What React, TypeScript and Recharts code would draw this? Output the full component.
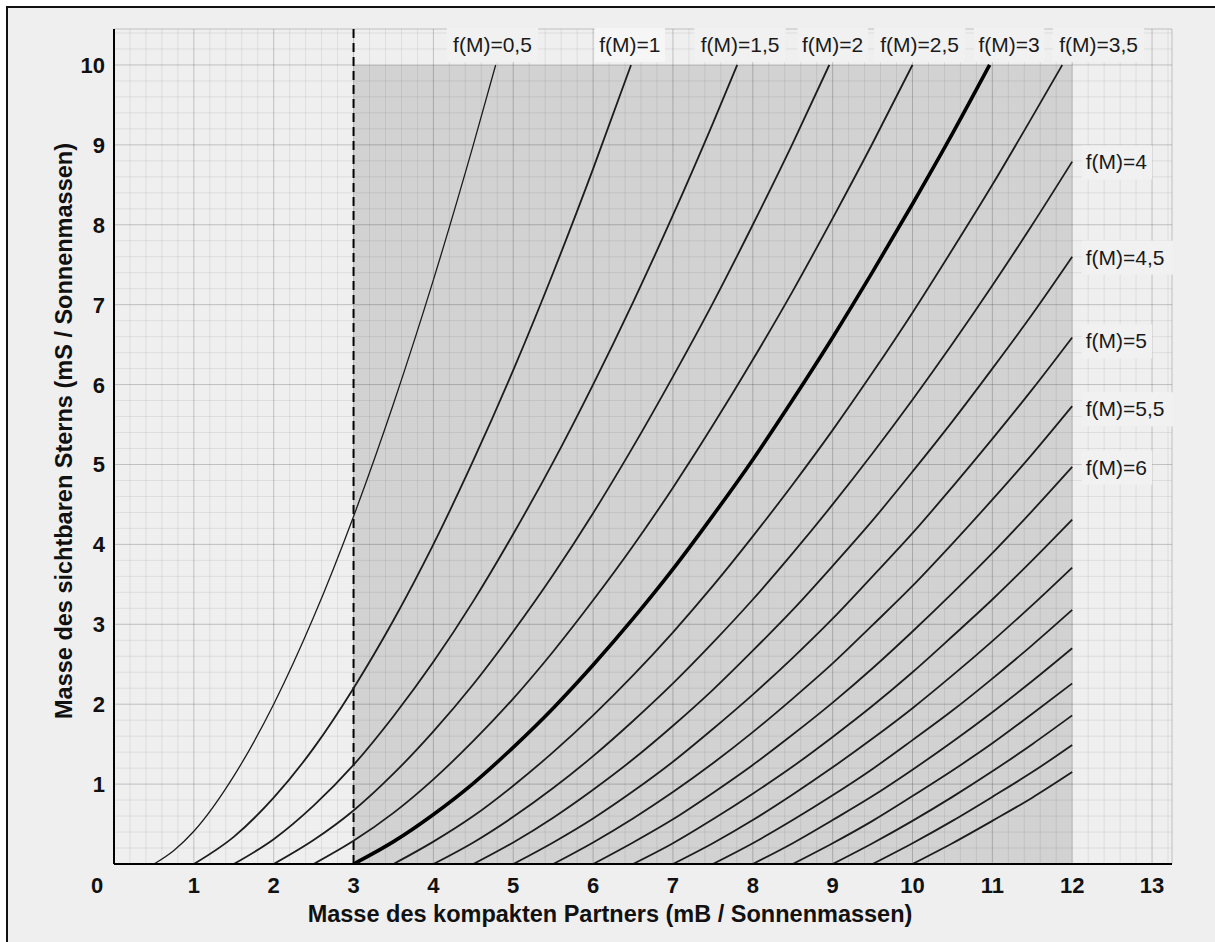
import React from "react";
import {
  CartesianGrid,
  Line,
  LineChart,
  ReferenceArea,
  ReferenceDot,
  ReferenceLine,
  XAxis,
  YAxis,
} from "recharts";

type Pt = [number, number];

// mS over mB for each mass function f(M)
const fm05: Pt[] = [[0.5, 0], [0.75, 0.17], [1, 0.41], [1.5, 1.1], [2, 2], [2.5, 3.09], [3, 4.35], [3.5, 5.76], [4, 7.31], [4.5, 9], [4.78, 10]];
const fm10: Pt[] = [[1, 0], [1.5, 0.34], [2, 0.83], [2.5, 1.45], [3, 2.2], [3.5, 3.05], [4, 4], [4.5, 5.05], [5, 6.18], [5.5, 7.4], [6, 8.7], [6.475, 10]];
const fm15: Pt[] = [[1.5, 0], [2, 0.31], [2.5, 0.73], [3, 1.24], [3.5, 1.85], [4, 2.53], [4.5, 3.29], [5, 4.13], [5.5, 5.03], [6, 6], [6.5, 7.03], [7, 8.12], [7.5, 9.27], [7.805, 10]];
const fm20: Pt[] = [[2, 0], [2.5, 0.3], [3, 0.67], [3.5, 1.13], [4, 1.66], [4.5, 2.25], [5, 2.91], [5.5, 3.62], [6, 4.39], [6.5, 5.22], [7, 6.1], [7.5, 7.02], [8, 8], [8.5, 9.02], [8.958, 10]];
const fm25: Pt[] = [[2.5, 0], [3, 0.29], [3.5, 0.64], [4, 1.06], [4.5, 1.54], [5, 2.07], [5.5, 2.66], [6, 3.3], [6.5, 3.98], [7, 4.71], [7.5, 5.49], [8, 6.31], [8.5, 7.17], [9, 8.08], [9.5, 9.02], [10, 10]];
const fm30: Pt[] = [[3, 0], [3.5, 0.28], [4, 0.62], [4.5, 1.01], [5, 1.46], [5.5, 1.95], [6, 2.49], [6.5, 3.07], [7, 3.69], [7.5, 4.36], [8, 5.06], [8.5, 5.81], [9, 6.59], [9.5, 7.41], [10, 8.26], [10.5, 9.14], [10.966, 10]];
const fm35: Pt[] = [[3.5, 0], [4, 0.28], [4.5, 0.6], [5, 0.98], [5.5, 1.4], [6, 1.86], [6.5, 2.36], [7, 2.9], [7.5, 3.48], [8, 4.1], [8.5, 4.75], [9, 5.43], [9.5, 6.15], [10, 6.9], [10.5, 7.69], [11, 8.5], [11.5, 9.35], [11.876, 10]];
const fm40: Pt[] = [[4, 0], [4.5, 0.27], [5, 0.59], [5.5, 0.95], [6, 1.35], [6.5, 1.79], [7, 2.26], [7.5, 2.77], [8, 3.31], [8.5, 3.89], [9, 4.5], [9.5, 5.14], [10, 5.81], [10.5, 6.51], [11, 7.24], [11.5, 8], [12, 8.79]];
const fm45: Pt[] = [[4.5, 0], [5, 0.27], [5.5, 0.58], [6, 0.93], [6.5, 1.31], [7, 1.73], [7.5, 2.18], [8, 2.67], [8.5, 3.18], [9, 3.73], [9.5, 4.3], [10, 4.91], [10.5, 5.54], [11, 6.2], [11.5, 6.88], [12, 7.6]];
const fm50: Pt[] = [[5, 0], [5.5, 0.27], [6, 0.57], [6.5, 0.91], [7, 1.28], [7.5, 1.69], [8, 2.12], [8.5, 2.58], [9, 3.07], [9.5, 3.6], [10, 4.14], [10.5, 4.72], [11, 5.32], [11.5, 5.94], [12, 6.59]];
const fm55: Pt[] = [[5.5, 0], [6, 0.27], [6.5, 0.57], [7, 0.9], [7.5, 1.26], [8, 1.65], [8.5, 2.07], [9, 2.51], [9.5, 2.99], [10, 3.48], [10.5, 4.01], [11, 4.56], [11.5, 5.13], [12, 5.73]];
const fm60: Pt[] = [[6, 0], [6.5, 0.27], [7, 0.56], [7.5, 0.89], [8, 1.24], [8.5, 1.62], [9, 2.02], [9.5, 2.45], [10, 2.91], [10.5, 3.39], [11, 3.89], [11.5, 4.42], [12, 4.97]];
const fm65: Pt[] = [[6.5, 0], [7, 0.26], [7.5, 0.56], [8, 0.88], [8.5, 1.22], [9, 1.59], [9.5, 1.98], [10, 2.4], [10.5, 2.85], [11, 3.31], [11.5, 3.8], [12, 4.31]];
const fm70: Pt[] = [[7, 0], [7.5, 0.26], [8, 0.55], [8.5, 0.87], [9, 1.21], [9.5, 1.57], [10, 1.95], [10.5, 2.36], [11, 2.79], [11.5, 3.24], [12, 3.71]];
const fm75: Pt[] = [[7.5, 0], [8, 0.26], [8.5, 0.55], [9, 0.86], [9.5, 1.19], [10, 1.55], [10.5, 1.92], [11, 2.32], [11.5, 2.74], [12, 3.18]];
const fm80: Pt[] = [[8, 0], [8.5, 0.26], [9, 0.55], [9.5, 0.85], [10, 1.18], [10.5, 1.53], [11, 1.9], [11.5, 2.29], [12, 2.7]];
const fm85: Pt[] = [[8.5, 0], [9, 0.26], [9.5, 0.54], [10, 0.85], [10.5, 1.17], [11, 1.51], [11.5, 1.88], [12, 2.26]];
const fm90: Pt[] = [[9, 0], [9.5, 0.26], [10, 0.54], [10.5, 0.84], [11, 1.16], [11.5, 1.5], [12, 1.86]];
const fm95: Pt[] = [[9.5, 0], [10, 0.26], [10.5, 0.54], [11, 0.84], [11.5, 1.15], [12, 1.49]];
const fm100: Pt[] = [[10, 0], [10.5, 0.26], [11, 0.54], [11.5, 0.83], [12, 1.15]];

const fValues = [0.5, 1, 1.5, 2, 2.5, 3, 3.5, 4, 4.5, 5, 5.5, 6, 6.5, 7, 7.5, 8, 8.5, 9, 9.5, 10];
const fCurves = [fm05, fm10, fm15, fm20, fm25, fm30, fm35, fm40, fm45, fm50, fm55, fm60, fm65, fm70, fm75, fm80, fm85, fm90, fm95, fm100];

// labels: [text, mB position] along the top, [text, mS position] at the right
const topLabels: [string, number][] = [
  ["f(M)=0,5", 4.74], ["f(M)=1", 6.46], ["f(M)=1,5", 7.84], ["f(M)=2", 9.0],
  ["f(M)=2,5", 10.09], ["f(M)=3", 11.21], ["f(M)=3,5", 12.33],
];
const rightLabels: [string, number][] = [
  ["f(M)=4", 8.78], ["f(M)=4,5", 7.59], ["f(M)=5", 6.54], ["f(M)=5,5", 5.69], ["f(M)=6", 4.96],
];

const xTicks = [0, 1, 2, 3, 4, 5, 6, 7, 8, 9, 10, 11, 12, 13];
const yTicks = [1, 2, 3, 4, 5, 6, 7, 8, 9, 10];
const minorStep = 0.2;
const xMax = 13.25;
const yMax = 10.45;

// minor grid every 0.2, skipping the integer lines of the major grid
const minorX: number[] = [];
for (let i = 1; i * minorStep <= xMax; i++) if (i % 5 !== 0) minorX.push(+(i * minorStep).toFixed(2));
const minorY: number[] = [];
for (let i = 1; i * minorStep <= yMax; i++) if (i % 5 !== 0) minorY.push(+(i * minorStep).toFixed(2));

const FONT = "'Liberation Sans', Arial, sans-serif";

const XTick = ({ x, y, payload }: any) => (
  <text x={payload.value === 0 ? x - 17 : x} y={y + 29} textAnchor="middle" fontFamily={FONT} fontWeight="bold" fontSize={22} fill="#111">
    {payload.value}
  </text>
);

const YTick = ({ x, y, payload }: any) => (
  <text x={x - 9} y={y + 8} textAnchor="end" fontFamily={FONT} fontWeight="bold" fontSize={22} fill="#111">
    {payload.value}
  </text>
);

const labelShape = (text: string, anchor: "middle" | "start") => (props: any) => {
  const { cx, cy } = props;
  const w = text.length * 10.4 + 8;
  const left = anchor === "middle" ? cx - w / 2 : cx - 4;
  return (
    <g>
      <rect x={left} y={cy - 17} width={w} height={34} fill={text === "f(M)=1" ? "#f6f6f6" : "#f1f1f1"} />
      <text x={cx} y={cy + 7} textAnchor={anchor} fontFamily={FONT} fontSize={21} fill="#1a1a1a">
        {text}
      </text>
    </g>
  );
};

export default function App() {
  return (
    <div style={{ position: "absolute", left: 0, top: 0, width: 1215, height: 942, background: "#fff", overflow: "hidden" }}>
      <div style={{ position: "absolute", left: 6, top: 6, width: 1209, height: 936, background: "#efefef", borderTop: "2px solid #111", borderLeft: "2px solid #111", boxSizing: "border-box" }} />
      <div style={{ position: "absolute", left: 0, top: 0 }}>
        <LineChart width={1215} height={942} margin={{ top: 29, right: 43, bottom: 48, left: 64 }}>
          <CartesianGrid stroke="#000" strokeOpacity={0.2} strokeWidth={1} />
          {minorX.map((v) => (
            <ReferenceLine key={`mx${v}`} x={v} stroke="#000" strokeOpacity={0.075} strokeWidth={1} />
          ))}
          {minorY.map((v) => (
            <ReferenceLine key={`my${v}`} y={v} stroke="#000" strokeOpacity={0.075} strokeWidth={1} />
          ))}
          <XAxis
            type="number"
            dataKey="x"
            domain={[0, xMax]}
            ticks={xTicks}
            allowDataOverflow
            height={30}
            tickSize={0}
            tickMargin={0}
            tickLine={false}
            axisLine={{ stroke: "#000", strokeWidth: 2 }}
            tick={<XTick />}
          />
          <YAxis
            type="number"
            dataKey="y"
            domain={[0, yMax]}
            ticks={yTicks}
            allowDataOverflow
            width={50}
            tickSize={0}
            tickMargin={0}
            tickLine={false}
            axisLine={{ stroke: "#000", strokeWidth: 2 }}
            tick={<YTick />}
          />
          <ReferenceArea x1={3} x2={12} y1={0} y2={10} fill="#000" fillOpacity={0.12} stroke="none" />
          <ReferenceLine x={3} stroke="#000" strokeWidth={2} strokeDasharray="9 5" />
          {fCurves.map((pts, i) => {
            const f = fValues[i];
            return (
              <Line
                key={f}
                data={pts.map(([x, y]) => ({ x, y }))}
                dataKey="y"
                type="monotone"
                dot={false}
                activeDot={false}
                isAnimationActive={false}
                stroke={f === 3 ? "#000" : "#1c1c1c"}
                strokeWidth={f === 3 ? 3.6 : f === 0.5 ? 1.3 : 1.8}
              />
            );
          })}
          {topLabels.map(([text, x]) => (
            <ReferenceDot key={text} x={x} y={10.25} r={0} ifOverflow="visible" shape={labelShape(text, "middle")} />
          ))}
          {rightLabels.map(([text, y]) => (
            <ReferenceDot key={text} x={12.17} y={y} r={0} ifOverflow="visible" shape={labelShape(text, "start")} />
          ))}
        </LineChart>
      </div>
      <div style={{ position: "absolute", left: 210, top: 901, width: 800, textAlign: "center", fontFamily: FONT, fontWeight: "bold", fontSize: 23.5, lineHeight: "26px", color: "#111" }}>
        Masse des kompakten Partners (mB / Sonnenmassen)
      </div>
      <div style={{ position: "absolute", left: 64 - 350, top: 431 - 13, width: 700, height: 26, textAlign: "center", fontFamily: FONT, fontWeight: "bold", fontSize: 23.5, lineHeight: "26px", color: "#111", transform: "rotate(-90deg)" }}>
        Masse des sichtbaren Sterns (mS / Sonnenmassen)
      </div>
    </div>
  );
}
